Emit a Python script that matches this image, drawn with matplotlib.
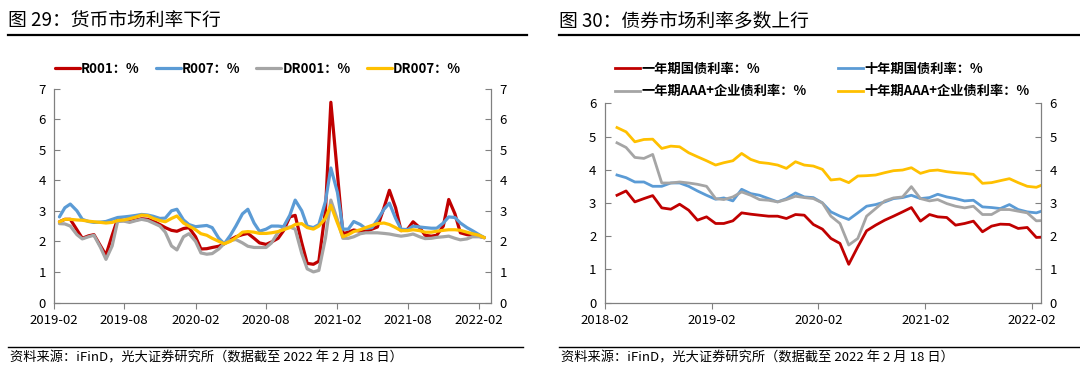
import pandas as pd
import matplotlib
matplotlib.use("Agg")
import matplotlib.pyplot as plt
import matplotlib.dates as mdates
from matplotlib.lines import Line2D

plt.rcParams['font.family'] = ['Noto Sans CJK SC', 'DejaVu Sans']

# ---- left chart: money market rates (semi-monthly readings) ----
mm_dates = pd.date_range("2019-02-15", periods=73, freq="SMS-15")
r001 = [2.64, 2.72, 2.72, 2.38, 2.10, 2.18, 2.22, 1.85, 1.55, 2.20,
        2.73, 2.68, 2.65, 2.70, 2.74, 2.72, 2.66, 2.55, 2.45, 2.36,
        2.33, 2.42, 2.45, 2.15, 1.75, 1.76, 1.80, 1.84, 1.92, 2.05,
        2.15, 2.22, 2.26, 2.10, 1.95, 1.90, 1.98, 2.10, 2.35, 2.80,
        2.85, 1.95, 1.28, 1.25, 1.35, 3.00, 6.55, 4.20, 2.25, 2.30,
        2.37, 2.33, 2.33, 2.40, 2.47, 3.10, 3.67, 3.10, 2.35, 2.40,
        2.64, 2.45, 2.20, 2.17, 2.20, 2.50, 3.37, 2.90, 2.28, 2.22,
        2.20, 2.17, 2.12]
r007 = [2.80, 3.10, 3.22, 3.00, 2.72, 2.65, 2.62, 2.63, 2.65, 2.72,
        2.78, 2.80, 2.82, 2.85, 2.88, 2.86, 2.82, 2.75, 2.76, 3.00,
        3.05, 2.70, 2.55, 2.48, 2.50, 2.52, 2.45, 2.10, 1.92, 2.20,
        2.50, 2.90, 3.05, 2.60, 2.33, 2.40, 2.50, 2.50, 2.48, 2.85,
        3.35, 3.00, 2.50, 2.45, 2.55, 3.30, 4.40, 3.60, 2.40, 2.40,
        2.65, 2.55, 2.42, 2.45, 2.70, 3.05, 3.25, 2.75, 2.40, 2.38,
        2.50, 2.47, 2.45, 2.43, 2.43, 2.60, 2.80, 2.78, 2.60, 2.45,
        2.35, 2.22, 2.12]
dr001 = [2.58, 2.57, 2.50, 2.22, 2.08, 2.15, 2.20, 1.80, 1.41, 1.85,
         2.65, 2.66, 2.62, 2.68, 2.72, 2.68, 2.60, 2.50, 2.30, 1.85,
         1.72, 2.15, 2.25, 2.00, 1.62, 1.58, 1.60, 1.75, 1.93, 2.03,
         2.06, 1.95, 1.84, 1.80, 1.80, 1.80, 1.95, 2.30, 2.42, 2.47,
         2.40, 1.60, 1.10, 1.00, 1.05, 2.10, 3.35, 2.70, 2.10, 2.10,
         2.15, 2.25, 2.28, 2.28, 2.28, 2.26, 2.24, 2.20, 2.17, 2.20,
         2.24, 2.15, 2.09, 2.10, 2.13, 2.15, 2.17, 2.10, 2.05, 2.08,
         2.15, 2.15, 2.12]
dr007 = [2.64, 2.72, 2.72, 2.70, 2.69, 2.66, 2.64, 2.62, 2.60, 2.62,
         2.68, 2.70, 2.74, 2.80, 2.86, 2.84, 2.75, 2.68, 2.64, 2.75,
         2.83, 2.60, 2.50, 2.38, 2.25, 2.20, 2.10, 2.00, 1.92, 2.00,
         2.12, 2.30, 2.32, 2.30, 2.26, 2.26, 2.28, 2.32, 2.38, 2.45,
         2.55, 2.58, 2.45, 2.40, 2.50, 2.75, 3.18, 2.60, 2.15, 2.22,
         2.32, 2.38, 2.45, 2.52, 2.58, 2.60, 2.55, 2.45, 2.35, 2.35,
         2.38, 2.35, 2.30, 2.30, 2.33, 2.36, 2.38, 2.38, 2.36, 2.30,
         2.25, 2.20, 2.12]

# ---- right chart: bond yields (monthly readings) ----
bond_dates = pd.date_range("2018-02-15", periods=49, freq="MS") + pd.Timedelta(days=14)
gov_1y = [3.23, 3.36, 3.03, 3.13, 3.22, 2.85, 2.81, 2.96, 2.78, 2.48,
          2.58, 2.38, 2.38, 2.46, 2.70, 2.66, 2.63, 2.60, 2.60, 2.53,
          2.65, 2.63, 2.35, 2.21, 1.93, 1.78, 1.15, 1.68, 2.16, 2.33,
          2.48, 2.60, 2.73, 2.86, 2.45, 2.65, 2.58, 2.56, 2.33, 2.38,
          2.45, 2.13, 2.30, 2.36, 2.35, 2.23, 2.26, 1.96, 1.97]
gov_10y = [3.84, 3.76, 3.63, 3.63, 3.50, 3.50, 3.60, 3.60, 3.50, 3.36,
           3.23, 3.11, 3.15, 3.06, 3.41, 3.28, 3.23, 3.13, 3.03, 3.13,
           3.30, 3.18, 3.16, 3.00, 2.73, 2.60, 2.50, 2.70, 2.90, 2.95,
           3.03, 3.13, 3.16, 3.23, 3.13, 3.16, 3.26, 3.18, 3.13, 3.06,
           3.08, 2.88, 2.86, 2.83, 2.95, 2.80, 2.73, 2.70, 2.78]
aaa_1y = [4.81, 4.67, 4.37, 4.34, 4.46, 3.60, 3.60, 3.63, 3.60, 3.56,
          3.50, 3.13, 3.10, 3.18, 3.33, 3.23, 3.10, 3.08, 3.03, 3.10,
          3.20, 3.16, 3.13, 3.00, 2.60, 2.38, 1.73, 1.93, 2.60, 2.83,
          3.06, 3.15, 3.18, 3.49, 3.13, 3.06, 3.10, 2.98, 2.90, 2.85,
          2.90, 2.65, 2.65, 2.80, 2.80, 2.75, 2.70, 2.46, 2.47]
aaa_10y = [5.27, 5.14, 4.84, 4.91, 4.92, 4.64, 4.71, 4.69, 4.51, 4.39,
           4.27, 4.14, 4.21, 4.27, 4.49, 4.31, 4.22, 4.19, 4.14, 4.04,
           4.24, 4.14, 4.11, 4.01, 3.69, 3.72, 3.61, 3.81, 3.82, 3.84,
           3.91, 3.97, 3.99, 4.06, 3.89, 3.97, 3.99, 3.94, 3.91, 3.89,
           3.86, 3.59, 3.61, 3.67, 3.73, 3.61, 3.50, 3.47, 3.57]

RED, BLUE, GRAY, GOLD = "#C00000", "#5B9BD5", "#A5A5A5", "#FFC000"
AXC = "#808080"

fig = plt.figure(figsize=(10.8, 3.75), dpi=100)


def style_axes(ax, ymax, xticks, xlim):
    ax.set_ylim(0, ymax)
    ax.set_xlim(*xlim)
    ax.set_yticks(range(ymax + 1))
    ax.set_xticks(xticks)
    ax.xaxis.set_major_formatter(mdates.DateFormatter("%Y-%m"))
    for s in ["left", "bottom", "right"]:
        ax.spines[s].set_color(AXC)
        ax.spines[s].set_linewidth(0.9)
    ax.spines["top"].set_visible(False)
    ax.tick_params(axis="y", direction="in", length=4, color=AXC,
                   labelsize=9.5, right=True, labelright=True, pad=6)
    ax.tick_params(axis="x", direction="out", length=4, color=AXC,
                   labelsize=9.5, pad=4)


# left panel
ax1 = fig.add_axes([54 / 1080, (375 - 302.5) / 375, (491 - 54) / 1080, (302.5 - 88.5) / 375])
for vals, c, name in [(r001, RED, "R001：%"), (r007, BLUE, "R007：%"),
                      (dr001, GRAY, "DR001：%"), (dr007, GOLD, "DR007：%")]:
    ax1.plot(mm_dates, vals, color=c, lw=2.3, label=name,
             solid_joinstyle="round", solid_capstyle="round")
style_axes(ax1, 7, pd.date_range("2019-02-01", "2022-02-01", freq="6MS"),
           (pd.Timestamp("2019-02-01"), pd.Timestamp("2022-03-04")))

# right panel
ax2 = fig.add_axes([604.7 / 1080, (375 - 302.5) / 375, (1041 - 604.7) / 1080, (302.5 - 103.3) / 375])
for vals, c, name in [(gov_1y, RED, "一年期国债利率：%"), (gov_10y, BLUE, "十年期国债利率：%"),
                      (aaa_1y, GRAY, "一年期AAA+企业债利率：%"), (aaa_10y, GOLD, "十年期AAA+企业债利率：%")]:
    ax2.plot(bond_dates, vals, color=c, lw=2.0, label=name)
style_axes(ax2, 6, pd.date_range("2018-02-01", "2022-02-01", freq="12MS"),
           (pd.Timestamp("2018-02-01"), pd.Timestamp("2022-03-03")))

# legends
fig.legend(*ax1.get_legend_handles_labels(), loc="center", bbox_to_anchor=(258 / 1080, 1 - 69 / 375),
           ncol=4, frameon=False, handlelength=1.9, handletextpad=0.1, columnspacing=1.2,
           prop={"size": 9.5, "weight": "bold"})
h, l = ax2.get_legend_handles_labels()
fig.legend([h[0], h[2], h[1], h[3]], [l[0], l[2], l[1], l[3]], loc="center",
           bbox_to_anchor=(822 / 1080, 1 - 80 / 375), ncol=2, frameon=False,
           handlelength=1.9, handletextpad=0.1, columnspacing=2.4, labelspacing=0.65,
           prop={"size": 9.5, "weight": "bold"})

# titles, rules, sources
titles = ["图 29：货币市场利率下行", "图 30：债券市场利率多数上行"]
source = "资料来源：iFinD，光大证券研究所（数据截至 2022 年 2 月 18 日）"
for x0, x1, t in [(8, 527, titles[0]), (559, 1079, titles[1])]:
    fig.text(x0 / 1080, 1 - 21 / 375, t, fontsize=13.5, va="center", ha="left")
    fig.add_artist(Line2D([x0 / 1080, x1 / 1080], [1 - 35 / 375] * 2, color="black", lw=1.6))
for x0, x1 in [(8, 523), (559, 1079)]:
    fig.add_artist(Line2D([x0 / 1080, x1 / 1080], [1 - 347 / 375] * 2, color="black", lw=1.0))
    fig.text((x0 + 2) / 1080, 1 - 358 / 375, source, fontsize=9.5, va="center", ha="left")

fig.savefig("out.png", dpi=100)
